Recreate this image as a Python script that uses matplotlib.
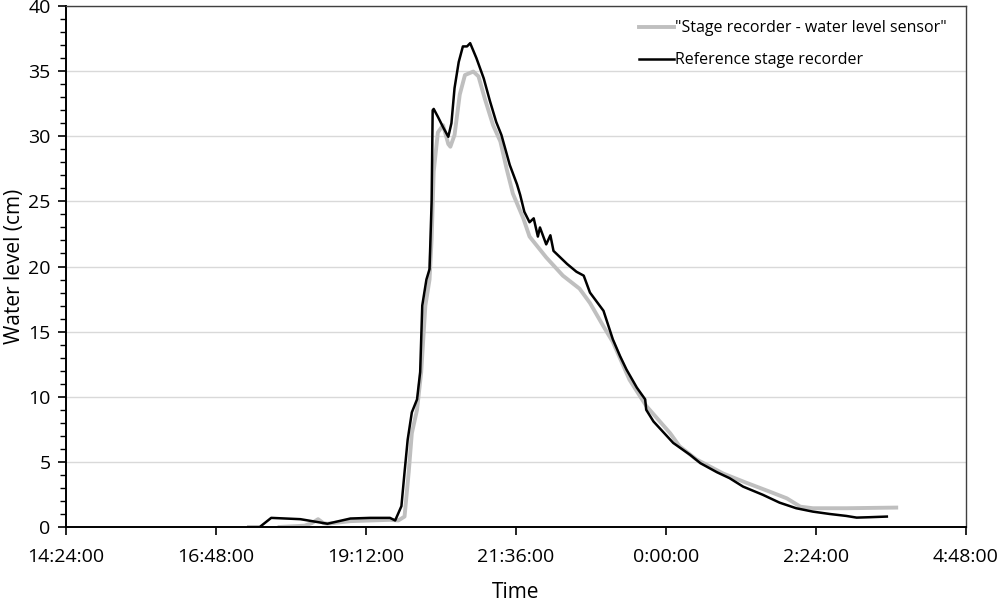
import numpy as np
import matplotlib
matplotlib.use("Agg")
import matplotlib.pyplot as plt
from matplotlib.ticker import MultipleLocator, FuncFormatter

plt.rcParams['font.family'] = ['Open Sans', 'DejaVu Sans']

# reference stage recorder (black)
ref_time = ["17:19", "17:30", "17:41", "18:09", "18:35", "18:57", "19:16", "19:35", "19:40",
            "19:46", "19:49", "19:52", "19:56", "20:01", "20:04", "20:06", "20:10", "20:13",
            "20:15", "20:16", "20:17", "20:21", "20:26", "20:31", "20:34", "20:37", "20:41",
            "20:45", "20:49", "20:52",
            "20:58", "21:05", "21:11", "21:17", "21:22", "21:30", "21:37", "21:40", "21:44",
            "21:49", "21:53", "21:57", "21:59", "22:05", "22:09", "22:12", "22:25", "22:34",
            "22:41", "22:47", "23:00", "23:09", "23:16", "23:22", "23:32", "23:40", "23:41",
            "23:48", "0:07", "0:23", "0:33", "0:49", "1:01", "1:14", "1:33", "1:49", "2:05",
            "2:21", "2:37", "2:53", "3:03", "3:15", "3:32"]
ref_level = [0.0, 0.0, 0.7, 0.6, 0.25, 0.65, 0.7, 0.7, 0.5,
             1.6, 4.2, 6.7, 8.8, 9.8, 11.9, 17.0, 19.0, 19.8,
             25.0, 32.0, 32.1, 31.5, 30.7, 29.96, 31.0, 33.7, 35.7,
             36.9, 36.9, 37.15,
             36.0, 34.45, 32.7, 31.1, 30.1, 27.8, 26.3, 25.5, 24.2,
             23.4, 23.7, 22.3, 23.0, 21.7, 22.4, 21.2, 20.2, 19.6,
             19.3, 18.0, 16.6, 14.4, 13.1, 12.1, 10.7, 9.8, 9.0,
             8.1, 6.45, 5.55, 4.9, 4.2, 3.75, 3.1, 2.47, 1.87, 1.44,
             1.18, 1.0, 0.85, 0.72, 0.75, 0.8]

# stage recorder - water level sensor (grey)
sensor_time = ["17:49", "18:13", "18:20", "18:26", "18:31", "18:35", "18:57", "19:35", "19:43",
               "19:49", "19:53", "19:56", "20:01", "20:05", "20:09", "20:13", "20:15", "20:17",
               "20:21", "20:26", "20:31", "20:33", "20:37", "20:42", "20:47", "20:55", "21:00",
               "21:06", "21:14", "21:21", "21:27", "21:33", "21:43", "21:49", "22:05", "22:21",
               "22:37", "22:47", "23:00", "23:09", "23:25", "23:41", "0:04", "0:13", "0:29",
               "0:55", "1:17", "1:40", "1:56", "2:09", "2:21", "2:53", "3:41"]
sensor_level = [0.0, 0.1, 0.3, 0.6, 0.3, 0.25, 0.45, 0.55, 0.5,
                0.8, 4.2, 7.2, 9.0, 11.9, 17.0, 19.0, 22.1, 27.3,
                30.3, 30.85, 29.4, 29.2, 30.1, 33.2, 34.7, 34.97, 34.6,
                32.9, 30.85, 29.6, 27.5, 25.6, 23.7, 22.3, 20.7, 19.3,
                18.3, 17.2, 15.4, 14.2, 11.3, 9.3, 7.2, 6.2, 5.2,
                4.1, 3.4, 2.7, 2.2, 1.56, 1.44, 1.44, 1.49]


def to_days(t):
    h, m = [int(v) for v in t.split(":")]
    if h < 12:
        h += 24
    return (h * 60 + m) / 1440.0


def fmt_time(v, pos):
    mins = int(round(v * 1440)) % 1440
    return "%d:%02d:00" % (mins // 60, mins % 60)


ref_x = [to_days(t) for t in ref_time]
sensor_x = [to_days(t) for t in sensor_time]

fig = plt.figure(figsize=(10, 6.04), dpi=100)
ax = fig.add_axes([0.066, 0.1275, 0.9, 0.8625])

ax.plot(sensor_x, sensor_level, color='#bfbfbf', lw=2.8, label='"Stage recorder - water level sensor"',
        solid_joinstyle='round')
ax.plot(ref_x, ref_level, color='black', lw=1.8, label='Reference stage recorder',
        solid_joinstyle='round')

ax.set_xlim(0.6, 1.2)
ax.set_ylim(0, 40)
ax.xaxis.set_major_locator(MultipleLocator(0.1))
ax.xaxis.set_major_formatter(FuncFormatter(fmt_time))
ax.yaxis.set_major_locator(MultipleLocator(5))
ax.yaxis.set_minor_locator(MultipleLocator(1))

ax.grid(axis='y', color='#d9d9d9', lw=1)
ax.set_axisbelow(True)

ax.tick_params(axis='both', which='major', labelsize=14, length=6, width=1.2, color='black')
ax.tick_params(axis='y', which='minor', length=4, width=1, color='black')
ax.tick_params(axis='x', pad=9)
ax.tick_params(axis='y', pad=5)

for s in ['left', 'bottom']:
    ax.spines[s].set_color('black')
    ax.spines[s].set_linewidth(1.4)
for s in ['top', 'right']:
    ax.spines[s].set_color('#404040')
    ax.spines[s].set_linewidth(1.0)

ax.set_xlabel('Time', fontsize=15, labelpad=12)
ax.set_ylabel('Water level (cm)', fontsize=15, labelpad=2)

ax.legend(loc='upper right', frameon=False, fontsize=11.5, handlelength=2.2,
          handletextpad=0.1, labelspacing=1.0, bbox_to_anchor=(0.995, 1.0))

fig.savefig('out.png', dpi=100)
